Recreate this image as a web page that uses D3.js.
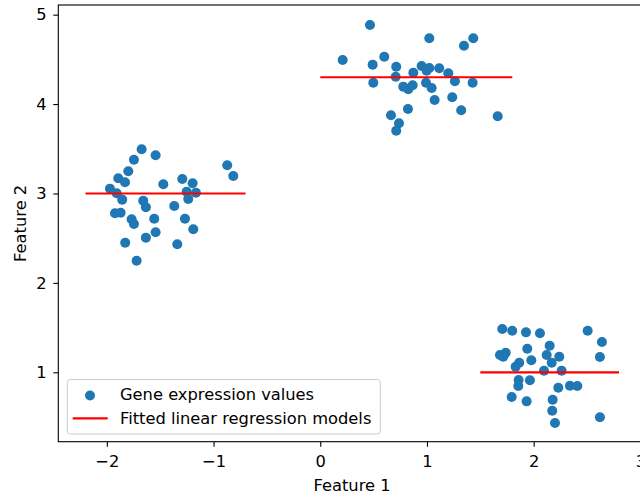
<!DOCTYPE html>
<html>
<head>
<meta charset="utf-8">
<script src="https://cdn.jsdelivr.net/npm/d3@7"></script>
<style>
  body { margin: 0; background: #fff; }
  text { font-family: "DejaVu Sans", sans-serif; }
</style>
</head>
<body>
<script>
// scatter points (three blobs)
var clusterLeftX = [-1.674, -1.543, -1.746, -1.799, -1.893, -1.830, -1.971, -1.908, -1.856, -1.924,
                    -1.871, -1.768, -1.746, -1.659, -1.634, -1.471, -1.293, -1.196, -1.252, -1.165,
                    -1.237, -1.368, -1.556, -1.543, -1.634, -1.828, -1.721, -1.340, -1.268, -1.190,
                    -0.872, -0.815];
var clusterLeftY = [3.494, 3.427, 3.378, 3.248, 3.170, 3.125, 3.054, 3.002, 2.931, 2.779,
                    2.785, 2.711, 2.659, 2.919, 2.846, 3.103, 3.162, 3.114, 3.020, 3.009,
                    2.938, 2.860, 2.718, 2.566, 2.506, 2.450, 2.248, 2.432, 2.718, 2.600,
                    3.315, 3.196];

var clusterTopX = [0.466, 1.022, 1.434, 1.347, 0.210, 0.600, 0.491, 0.712, 0.707, 0.497,
                   0.872, 0.950, 1.022, 0.997, 1.115, 1.200, 1.262, 1.428, 0.991, 1.044,
                   0.778, 0.825, 0.866, 1.072, 1.237, 1.321, 0.822, 0.663, 0.738, 0.712,
                   1.663];
var clusterTopY = [4.885, 4.736, 4.736, 4.653, 4.493, 4.530, 4.441, 4.418, 4.306, 4.239,
                   4.351, 4.426, 4.404, 4.374, 4.400, 4.344, 4.255, 4.239, 4.239, 4.180,
                   4.195, 4.166, 4.210, 4.046, 4.076, 3.931, 3.945, 3.875, 3.785, 3.702,
                   3.864];

var clusterRightX = [1.706, 1.799, 1.928, 2.059, 2.506, 2.640, 2.621, 2.150, 1.940, 2.122,
                     2.240, 1.684, 1.738, 1.715, 1.978, 1.865, 1.831, 2.169, 2.097, 2.262,
                     1.859, 1.856, 1.965, 2.231, 2.340, 2.409, 1.794, 1.934, 2.178, 2.174,
                     2.200, 2.621];
var clusterRightY = [1.484, 1.465, 1.447, 1.436, 1.465, 1.339, 1.171, 1.298, 1.264, 1.194,
                     1.175, 1.194, 1.219, 1.175, 1.134, 1.107, 1.063, 1.107, 1.018, 1.018,
                     0.914, 0.847, 0.911, 0.828, 0.850, 0.847, 0.724, 0.675, 0.694, 0.570,
                     0.433, 0.497];

// fitted lines: start x, end x, level
var fitStartX = [-2.2, 0.0, 1.5];
var fitEndX   = [-0.7, 1.8, 2.8];
var fitLevel  = [3.0, 4.3, 1.0];

var xTicks = [-2, -1, 0, 1, 2, 3];
var yTicks = [1, 2, 3, 4, 5];

var legendLabels = ["Gene expression values", "Fitted linear regression models"];

var W = 640, H = 498;
// note: "top" is taken by window.top, so prefix everything
var mLeft = 58.3, mRight = 645.7, mTop = 5, mBottom = 441.7;
var blue = "#1f77b4", red = "#ff0000";
var fontPx = "16.3px";

var x = d3.scaleLinear().domain([-2.455, 3.05]).range([mLeft, mRight]);
var y = d3.scaleLinear().domain([0.224, 5.108]).range([mBottom, mTop]);

function zipPoints(xs, ys) {
    return xs.map(function (d, i) { return [d, ys[i]]; });
}
var points = zipPoints(clusterLeftX, clusterLeftY)
    .concat(zipPoints(clusterTopX, clusterTopY))
    .concat(zipPoints(clusterRightX, clusterRightY));

var fits = fitLevel.map(function (d, i) { return { x1: fitStartX[i], x2: fitEndX[i], y: d }; });

var svg = d3.select("body").append("svg")
    .attr("width", W)
    .attr("height", H);

svg.append("clipPath").attr("id", "plotclip")
  .append("rect")
    .attr("x", mLeft).attr("y", mTop)
    .attr("width", mRight - mLeft).attr("height", mBottom - mTop);

var plot = svg.append("g").attr("clip-path", "url(#plotclip)");

plot.selectAll("circle")
    .data(points)
  .enter().append("circle")
    .attr("cx", function (d) { return x(d[0]); })
    .attr("cy", function (d) { return y(d[1]); })
    .attr("r", 5)
    .attr("fill", blue);

plot.selectAll("line.fit")
    .data(fits)
  .enter().append("line")
    .attr("class", "fit")
    .attr("x1", function (d) { return x(d.x1); })
    .attr("x2", function (d) { return x(d.x2); })
    .attr("y1", function (d) { return y(d.y); })
    .attr("y2", function (d) { return y(d.y); })
    .attr("stroke", red)
    .attr("stroke-width", 2.2);

// axes
var intFmt = d3.format("d");
var xAxis = svg.append("g")
    .attr("transform", "translate(0," + mBottom + ")")
    .call(d3.axisBottom(x).tickValues(xTicks).tickFormat(intFmt).tickSize(5).tickPadding(8.4));
var yAxis = svg.append("g")
    .attr("transform", "translate(" + mLeft + ",0)")
    .call(d3.axisLeft(y).tickValues(yTicks).tickFormat(intFmt).tickSize(5).tickPadding(6.6));

[xAxis, yAxis].forEach(function (g) {
    g.select(".domain").remove();
    g.selectAll(".tick line").attr("stroke", "#000").attr("stroke-width", 1.1);
    g.selectAll(".tick text")
        .attr("fill", "#000")
        .style("font-size", fontPx)
        .style("font-family", "DejaVu Sans, sans-serif");
});

// spines
svg.append("rect")
    .attr("x", mLeft).attr("y", mTop)
    .attr("width", mRight - mLeft).attr("height", mBottom - mTop)
    .attr("fill", "none")
    .attr("stroke", "#000")
    .attr("stroke-width", 1.1);

// axis labels
svg.append("text")
    .attr("x", (mLeft + mRight) / 2)
    .attr("y", 491)
    .attr("text-anchor", "middle")
    .style("font-size", fontPx)
    .text("Feature 1");

svg.append("text")
    .attr("transform", "translate(25.5," + ((mTop + mBottom) / 2) + ") rotate(-90)")
    .attr("text-anchor", "middle")
    .style("font-size", fontPx)
    .text("Feature 2");

// legend
var legend = svg.append("g").attr("transform", "translate(67.3,379.5)");
legend.append("rect")
    .attr("width", 313).attr("height", 54.5)
    .attr("rx", 3)
    .attr("fill", "#fff").attr("fill-opacity", 0.8)
    .attr("stroke", "#ccc")
    .attr("stroke-width", 1);

legend.append("circle")
    .attr("cx", 22.7).attr("cy", 16)
    .attr("r", 5)
    .attr("fill", blue);
legend.append("line")
    .attr("x1", 5.4).attr("x2", 40.4)
    .attr("y1", 38.8).attr("y2", 38.8)
    .attr("stroke", red)
    .attr("stroke-width", 2.2);

legend.selectAll("text.lab")
    .data(legendLabels)
  .enter().append("text")
    .attr("class", "lab")
    .attr("x", 52.7)
    .attr("y", function (d, i) { return 14.5 + i * 23.8; })
    .attr("dy", "0.35em")
    .style("font-size", fontPx)
    .text(String);
</script>
</body>
</html>
